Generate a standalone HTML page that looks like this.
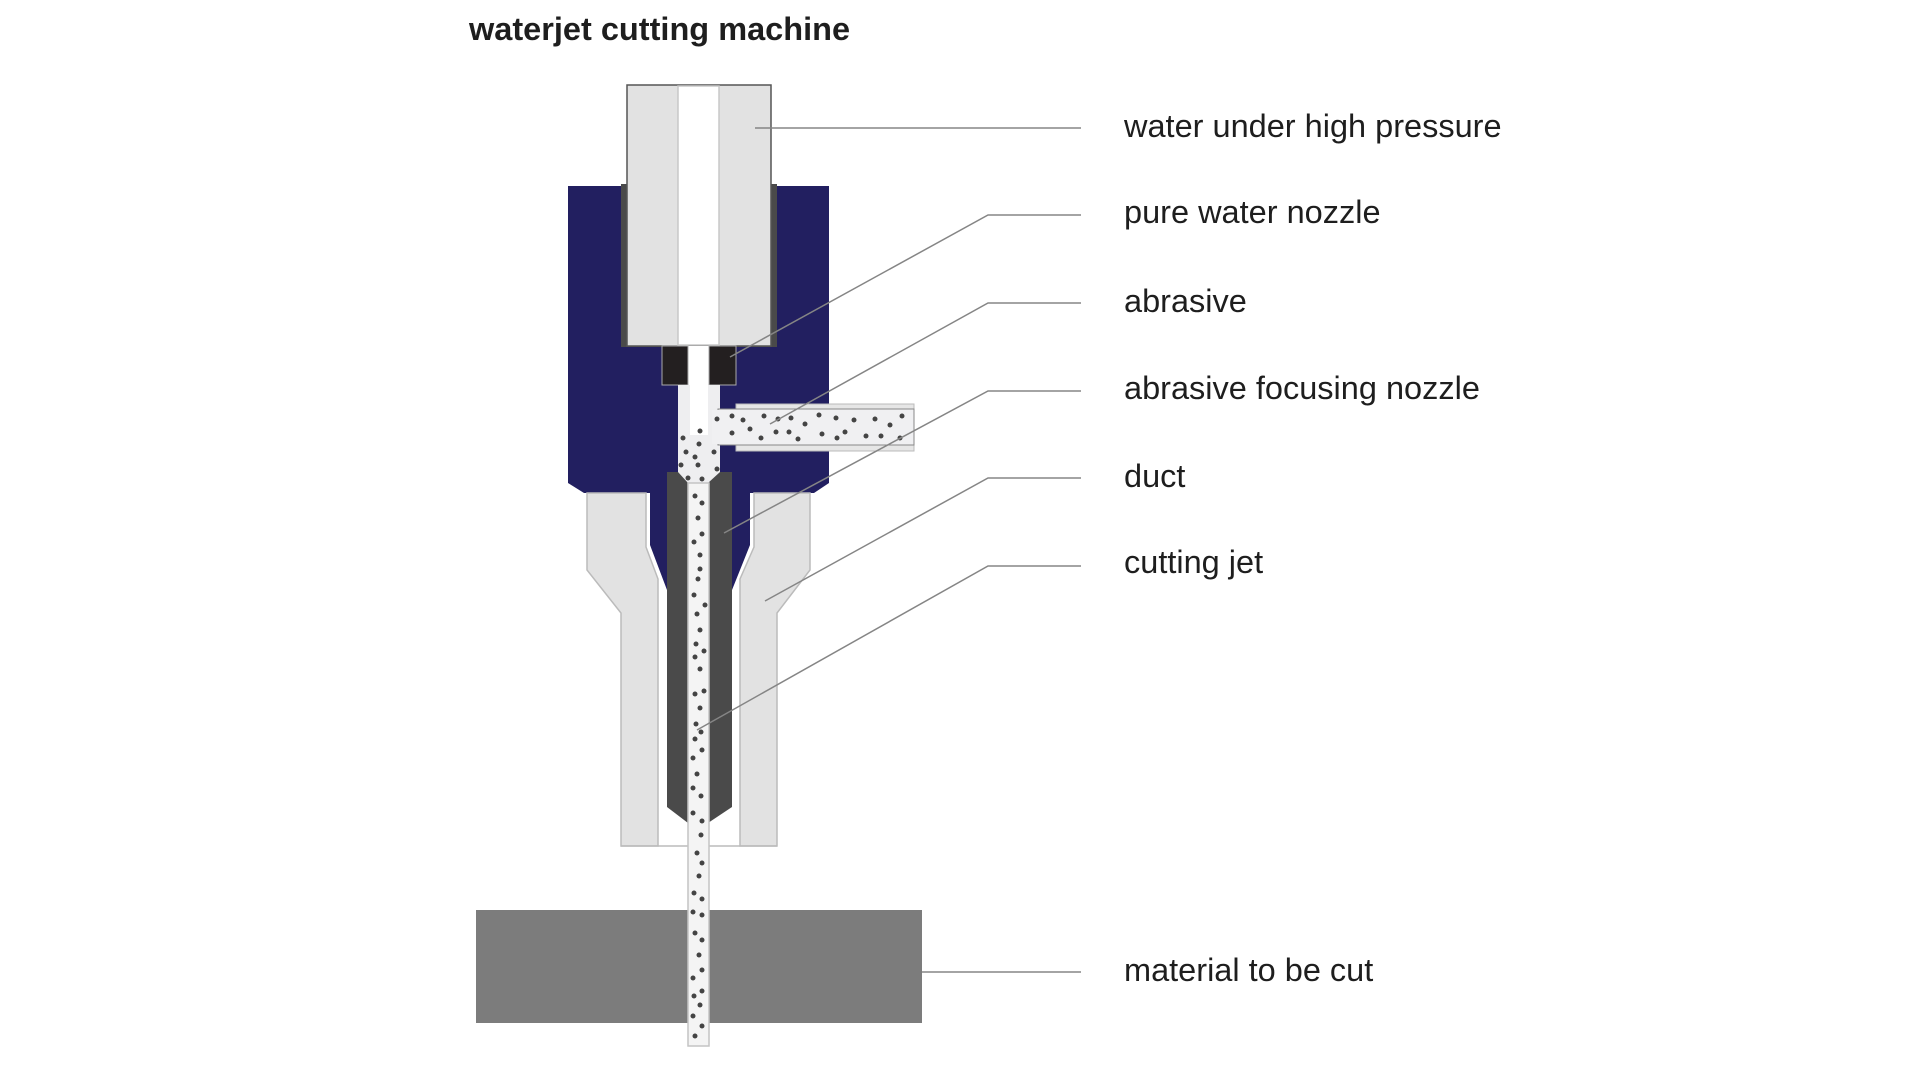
<!DOCTYPE html>
<html><head><meta charset="utf-8"><style>
html,body{margin:0;padding:0;background:#fff;width:1920px;height:1080px;overflow:hidden}
svg{display:block}
text{font-family:"Liberation Sans",sans-serif;fill:#1e1e1e}
</style></head><body>
<svg width="1920" height="1080" viewBox="0 0 1920 1080">
<text x="469" y="40" font-size="32.5" font-weight="bold">waterjet cutting machine</text>

<!-- navy body -->
<polygon points="568,186 829,186 829,483 814,493 750,493 750,545 732,590 667,590 650,545 650,493 584,493 568,483" fill="#221f60"/>
<!-- dark sleeve -->
<rect x="621" y="184" width="156" height="163" fill="#4a4a4a"/>
<!-- top cylinder -->
<rect x="627" y="85" width="144" height="261" fill="#e2e2e2" stroke="#555" stroke-width="1.5"/>
<rect x="678" y="86" width="41" height="259" fill="#fff" stroke="#c8c8c8" stroke-width="1.5"/>
<!-- black nozzle blocks -->
<rect x="688" y="346" width="21" height="40" fill="#fff"/>
<rect x="662" y="346" width="26" height="39" fill="#231f20" stroke="#aaa"/>
<rect x="709" y="346" width="27" height="39" fill="#231f20" stroke="#aaa"/>
<!-- channel -->
<rect x="678" y="385" width="42" height="100" fill="#eeeef0"/>
<rect x="690" y="385" width="18" height="50" fill="#fff"/>
<!-- abrasive tube -->
<rect x="736" y="404" width="178" height="47" fill="#e6e6e6" stroke="#bbb"/>
<rect x="718" y="409" width="196" height="36" fill="#f0f0f2" stroke="#888" stroke-width="1"/>
<rect x="712" y="410" width="10" height="34" fill="#f0f0f2"/>
<!-- duct -->
<polygon points="587,493 646,493 646,547 658,579 658,846 621,846 621,613 587,570" fill="#e2e2e2" stroke="#bbb" stroke-width="1.5"/>
<polygon points="810,493 754,493 754,547 740,579 740,846 777,846 777,613 810,570" fill="#e2e2e2" stroke="#bbb" stroke-width="1.5"/>
<line x1="621" y1="846" x2="777" y2="846" stroke="#bbb" stroke-width="1.5"/>
<!-- focusing nozzle -->
<polygon points="667,472 732,472 732,807 708,823 688,823 667,807" fill="#4a4a4a"/>
<polygon points="678,472 688,483 708,483 720,472" fill="#eeeef0"/>
<!-- material -->
<rect x="476" y="910" width="446" height="113" fill="#7c7c7c"/>
<!-- jet -->
<rect x="688" y="483" width="21" height="563" fill="#f4f4f4" stroke="#c4c4c4" stroke-width="1.5"/>
<g fill="#444">
<circle cx="700" cy="431" r="2.5"/><circle cx="683" cy="438" r="2.5"/><circle cx="699" cy="444" r="2.5"/><circle cx="686" cy="452" r="2.5"/><circle cx="714" cy="452" r="2.5"/><circle cx="695" cy="457" r="2.5"/><circle cx="681" cy="465" r="2.5"/><circle cx="698" cy="465" r="2.5"/><circle cx="717" cy="469" r="2.5"/><circle cx="688" cy="478" r="2.5"/><circle cx="702" cy="479" r="2.5"/>
<circle cx="695" cy="496" r="2.5"/><circle cx="702" cy="503" r="2.5"/><circle cx="698" cy="518" r="2.5"/><circle cx="702" cy="534" r="2.5"/><circle cx="694" cy="542" r="2.5"/><circle cx="700" cy="555" r="2.5"/><circle cx="700" cy="569" r="2.5"/><circle cx="698" cy="579" r="2.5"/>
<circle cx="694" cy="595" r="2.5"/><circle cx="705" cy="605" r="2.5"/><circle cx="697" cy="614" r="2.5"/><circle cx="700" cy="630" r="2.5"/><circle cx="696" cy="644" r="2.5"/><circle cx="704" cy="651" r="2.5"/><circle cx="695" cy="657" r="2.5"/><circle cx="700" cy="669" r="2.5"/><circle cx="695" cy="694" r="2.5"/><circle cx="704" cy="691" r="2.5"/><circle cx="700" cy="708" r="2.5"/><circle cx="696" cy="724" r="2.5"/><circle cx="701" cy="732" r="2.5"/><circle cx="695" cy="739" r="2.5"/><circle cx="702" cy="750" r="2.5"/><circle cx="693" cy="758" r="2.5"/><circle cx="697" cy="774" r="2.5"/><circle cx="693" cy="788" r="2.5"/><circle cx="701" cy="796" r="2.5"/><circle cx="693" cy="813" r="2.5"/><circle cx="702" cy="821" r="2.5"/><circle cx="701" cy="835" r="2.5"/>
<circle cx="697" cy="853" r="2.5"/><circle cx="702" cy="863" r="2.5"/><circle cx="699" cy="876" r="2.5"/><circle cx="694" cy="893" r="2.5"/><circle cx="702" cy="899" r="2.5"/><circle cx="693" cy="912" r="2.5"/><circle cx="702" cy="915" r="2.5"/><circle cx="695" cy="933" r="2.5"/><circle cx="702" cy="940" r="2.5"/><circle cx="699" cy="955" r="2.5"/><circle cx="702" cy="970" r="2.5"/><circle cx="693" cy="978" r="2.5"/><circle cx="694" cy="996" r="2.5"/><circle cx="702" cy="991" r="2.5"/><circle cx="700" cy="1005" r="2.5"/><circle cx="693" cy="1016" r="2.5"/><circle cx="702" cy="1026" r="2.5"/><circle cx="695" cy="1036" r="2.5"/>
<circle cx="717" cy="419" r="2.5"/><circle cx="732" cy="416" r="2.5"/><circle cx="743" cy="420" r="2.5"/><circle cx="750" cy="429" r="2.5"/><circle cx="732" cy="433" r="2.5"/><circle cx="764" cy="416" r="2.5"/><circle cx="778" cy="419" r="2.5"/><circle cx="761" cy="438" r="2.5"/><circle cx="776" cy="432" r="2.5"/><circle cx="791" cy="418" r="2.5"/><circle cx="789" cy="432" r="2.5"/><circle cx="805" cy="424" r="2.5"/><circle cx="798" cy="439" r="2.5"/><circle cx="819" cy="415" r="2.5"/><circle cx="822" cy="434" r="2.5"/><circle cx="836" cy="418" r="2.5"/><circle cx="837" cy="438" r="2.5"/><circle cx="845" cy="432" r="2.5"/><circle cx="854" cy="420" r="2.5"/><circle cx="866" cy="436" r="2.5"/><circle cx="875" cy="419" r="2.5"/><circle cx="881" cy="436" r="2.5"/><circle cx="890" cy="425" r="2.5"/><circle cx="902" cy="416" r="2.5"/><circle cx="900" cy="438" r="2.5"/>
</g>

<g stroke="#858585" stroke-width="1.5" fill="none">
<line x1="755" y1="128" x2="1081" y2="128"/>
<polyline points="730,357 988,215 1081,215"/>
<polyline points="770,424 988,303 1081,303"/>
<polyline points="724,533 988,391 1081,391"/>
<polyline points="765,601 988,478 1081,478"/>
<polyline points="697,730 988,566 1081,566"/>
<line x1="922" y1="972" x2="1081" y2="972"/>
</g>
<g font-size="32.5">
<text x="1124" y="137">water under high pressure</text>
<text x="1124" y="223">pure water nozzle</text>
<text x="1124" y="312">abrasive</text>
<text x="1124" y="399">abrasive focusing nozzle</text>
<text x="1124" y="487">duct</text>
<text x="1124" y="573">cutting jet</text>
<text x="1124" y="981">material to be cut</text>
</g>
</svg>
</body></html>
